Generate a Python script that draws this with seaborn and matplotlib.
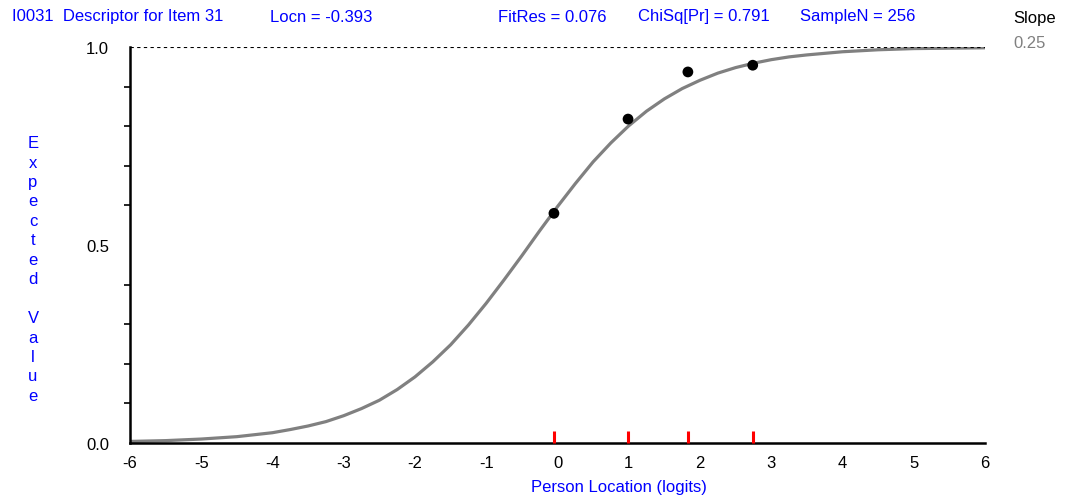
import numpy as np
import pandas as pd
import matplotlib
matplotlib.use("Agg")
import matplotlib.pyplot as plt
import seaborn as sns

# Curva característica do item
curve_x = [-6.0, -5.75, -5.5, -5.25, -5.0, -4.75, -4.5, -4.25, -4.0, -3.75, -3.5, -3.25,
           -3.0, -2.75, -2.5, -2.25, -2.0, -1.75, -1.5, -1.25, -1.0, -0.75, -0.5, -0.25,
           0.0, 0.25, 0.5, 0.75, 1.0, 1.25, 1.5, 1.75, 2.0, 2.25, 2.5, 2.75,
           3.0, 3.25, 3.5, 3.75, 4.0, 4.5, 5.0, 5.5, 6.0]
curve_y = [0.004, 0.005, 0.006, 0.008, 0.010, 0.013, 0.016, 0.021, 0.026, 0.034, 0.043, 0.054,
           0.069, 0.087, 0.108, 0.135, 0.167, 0.205, 0.248, 0.298, 0.353, 0.412, 0.473, 0.536,
           0.597, 0.655, 0.710, 0.758, 0.801, 0.838, 0.869, 0.895, 0.916, 0.934, 0.948, 0.959,
           0.968, 0.975, 0.980, 0.984, 0.988, 0.993, 0.996, 0.997, 0.998]

# Médias observadas por intervalo de classe
class_x = [-0.05, 0.99, 1.83, 2.74]
class_y = [0.580, 0.818, 0.937, 0.954]

x_ticks = [-6, -5, -4, -3, -2, -1, 0, 1, 2, 3, 4, 5, 6]
y_ticks = [0.0, 0.5, 1.0]

header = [("I0031  Descriptor for Item 31", 12), ("Locn = -0.393", 270),
          ("FitRes = 0.076", 498), ("ChiSq[Pr] = 0.791", 638), ("SampleN = 256", 800)]

df_curve = pd.DataFrame({"x": curve_x, "y": curve_y})
df_class = pd.DataFrame({"x": class_x, "y": class_y})

sns.set_style("white")
plt.rcParams['font.family'] = ['Liberation Sans', 'DejaVu Sans']

W, H = 1077, 502
fs = 12
fig = plt.figure(figsize=(W / 100, H / 100), dpi=100)
ax = fig.add_axes([130 / W, (H - 444) / H, 855 / W, 396 / H])

sns.lineplot(data=df_curve, x="x", y="y", color="#808080", linewidth=2.3, ax=ax)
sns.scatterplot(data=df_class, x="x", y="y", color="black", s=60, edgecolor="none",
                ax=ax, clip_on=False, zorder=5)

# marcas vermelhas dos intervalos de classe
ax.vlines(class_x, 0, 0.03, colors="red", linewidth=2.2, zorder=6, clip_on=False)

ax.axhline(1.0, color="black", linestyle=(0, (3, 3)), linewidth=0.8)

ax.set_xlim(-6, 6)
ax.set_ylim(0, 1)
ax.set_xticks(x_ticks)
ax.set_xticklabels([str(t) for t in x_ticks])
ax.set_yticks(y_ticks)
ax.set_yticklabels(["0.0", "0.5", "1.0"])
ax.set_yticks(np.arange(0.1, 1.0, 0.1), minor=True)
ax.set_xlabel("")
ax.set_ylabel("")

for s in ["top", "right"]:
    ax.spines[s].set_visible(False)
for s in ["left", "bottom"]:
    ax.spines[s].set_linewidth(1.8)
    ax.spines[s].set_color("black")

ax.tick_params(axis="x", direction="inout", length=9, width=1.2, colors="black",
               labelsize=fs, pad=4)
ax.tick_params(axis="y", which="major", direction="out", length=11, width=1.2,
               colors="black", labelsize=fs, pad=4)
ax.tick_params(axis="y", which="minor", direction="out", length=4, width=1.2,
               colors="black", left=True)

blue = "#0000ff"
for txt, px in header:
    fig.text(px / W, 1 - 17 / H, txt, color=blue, fontsize=fs, ha="left", va="center")
fig.text(1035 / W, 1 - 18 / H, "Slope", color="black", fontsize=fs, ha="center", va="center")
fig.text(1030 / W, 1 - 43 / H, "0.25", color="#808080", fontsize=fs, ha="center", va="center")

fig.text(619 / W, 1 - 488 / H, "Person Location (logits)", color=blue, fontsize=fs,
         ha="center", va="center")
fig.text(33 / W, 1 - 270 / H, "\n".join("Expected Value").replace(" ", ""), color=blue,
         fontsize=fs, ha="center", va="center", linespacing=1.37)

fig.savefig("out.png", dpi=100)
